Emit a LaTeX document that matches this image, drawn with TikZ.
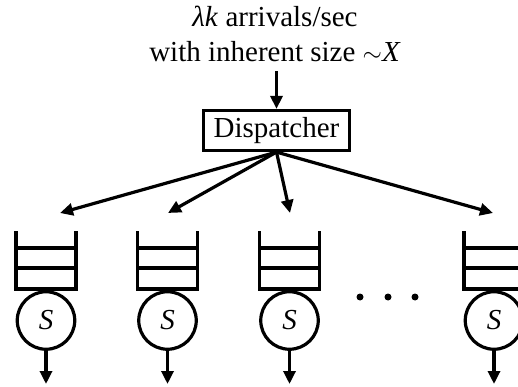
\documentclass[tikz,border=0pt]{standalone}
\usepackage{fontspec}
\setmainfont{Liberation Serif}
\usetikzlibrary{arrows.meta}
\begin{document}
\begin{tikzpicture}[x=1pt,y=-1pt,
  every node/.style={font=\fontsize{29}{35}\selectfont, inner sep=0pt},
  ln/.style={line width=3.2pt},
  arr/.style={ln, -{Triangle[length=13pt,width=12pt]}},
  server/.style={circle, draw, ln, minimum size=57.5pt},
  dispbox/.style={draw, ln, minimum width=146pt, minimum height=40pt},
  dotnode/.style={circle, fill, minimum size=7pt}]
\useasboundingbox (0,0) rectangle (518,387);
\clip (0,0) rectangle (518,387);
% labels
\node[anchor=base] (lab1) at (275,27) {\textit{λk} arrivals/sec};
\node[anchor=base] (lab2) at (275,62) {with inherent size $\sim$\textit{X}};
% dispatcher
\node[dispbox] (disp) at (276.5,130.5) {Dispatcher};
\draw[arr, shorten <=9pt] (lab2.south -| disp.north) -- (disp.north);
% queues
\foreach \i/\cx in {1/46, 2/167.5, 3/289.5, 4/494}{
  \draw[ln] (\cx-30,231) -- (\cx-30,289) -- (\cx+30,289) -- (\cx+30,231);
  \draw[ln] (\cx-30,248) -- (\cx+30,248);
  \draw[ln] (\cx-30,268) -- (\cx+30,268);
  \node[server] (s\i) at (\cx,320.5) {\textit{S}};
  \coordinate (o\i) at (\cx,384);
  \draw[arr] (s\i.south) -- (o\i);
}
% dispatch arrow ends
\coordinate (a1) at (60,213);
\coordinate (a2) at (168,213);
\coordinate (a3) at (290,213);
\coordinate (a4) at (493,213);
\foreach \i in {1,2,3,4}{
  \draw[arr] (disp.south) -- (a\i);
}
% dots
\node[dotnode] (d1) at (360,297) {};
\node[dotnode] (d2) at (388,297) {};
\node[dotnode] (d3) at (415,297) {};
\end{tikzpicture}
\end{document}
